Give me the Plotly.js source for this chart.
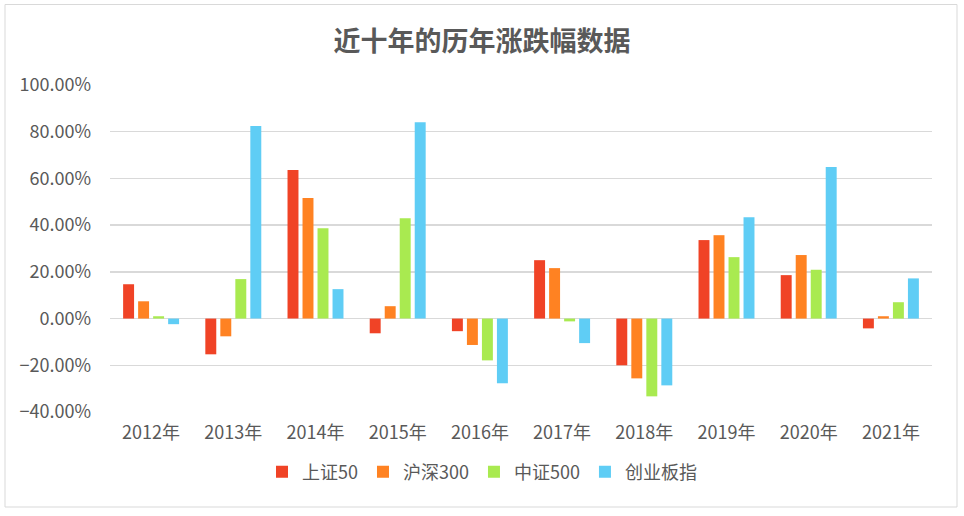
<!DOCTYPE html>
<html>
<head>
<meta charset="utf-8">
<script src="https://cdn.plot.ly/plotly-3.0.1.min.js"></script>
<style>html,body{margin:0;padding:0;background:#fff;}#chart{width:964px;height:516px;}</style>
</head>
<body>
<div id="chart"></div>
<script>
const years = ["2012年","2013年","2014年","2015年","2016年","2017年","2018年","2019年","2020年","2021年"];
const seriesNames = ["上证50","沪深300","中证500","创业板指"];
const sz50   = [0.147,-0.153,0.636,-0.063,-0.054,0.250,-0.200,0.336,0.186,-0.042];
const hs300  = [0.074,-0.076,0.516,0.053,-0.113,0.216,-0.256,0.357,0.272,0.010];
const zz500  = [0.010,0.169,0.387,0.430,-0.179,-0.012,-0.333,0.263,0.209,0.070];
const cybz   = [-0.024,0.824,0.126,0.841,-0.277,-0.105,-0.286,0.434,0.649,0.172];
const colors = ["#F04326","#FF8222","#A9EA50","#5FCDF5"];
const allVals = [sz50, hs300, zz500, cybz];

const font = '"Microsoft YaHei","Noto Sans CJK SC","Noto Sans",sans-serif';
const traces = allVals.map((v,i)=>({
  type:'bar', x:years, y:v, name:seriesNames[i],
  marker:{color:colors[i]}, hoverinfo:'skip'
}));

const layout = {
  width:964, height:516,
  paper_bgcolor:'#ffffff', plot_bgcolor:'#ffffff',
  margin:{l:110, r:32, t:85, b:104},
  font:{family:font, color:'#595959', size:18},
  title:{text:'<b>近十年的历年涨跌幅数据</b>', font:{family:font, size:27, color:'#595959'},
         x:0.5, xref:'container', xanchor:'center', y:1-42/516, yref:'container', yanchor:'middle'},
  barmode:'group', bargap:0.27, bargroupgap:0.27,
  xaxis:{type:'category', showgrid:false, zeroline:false, showline:false, ticks:'',
         tickfont:{family:font, size:18, color:'#595959'}, ticklabelstandoff:8},
  yaxis:{range:[-0.4,1.0], dtick:0.2, tick0:0, tickformat:'.2%', showgrid:true,
         gridcolor:'#D9D9D9', gridwidth:1.3, zeroline:true, zerolinecolor:'#D9D9D9', zerolinewidth:1.3,
         showline:false, ticks:'', tickfont:{family:font, size:18, color:'#595959'}, ticklabelstandoff:18},
  legend:{orientation:'h', x:0.5, xref:'container', xanchor:'center', y:1-472/516, yref:'container', yanchor:'middle',
          font:{family:font, size:18, color:'#595959'}, itemwidth:30, traceorder:'normal', tracegroupgap:0},
  showlegend:true,
  shapes:[{type:'rect', xref:'paper', yref:'paper', x0:-105/822, x1:(957-110)/822, y0:-(507-412)/327, y1:1+(85-4.5)/327,
           line:{color:'#D9D9D9', width:1}, fillcolor:'rgba(0,0,0,0)', layer:'below'}]
};
Plotly.newPlot('chart', traces, layout, {displayModeBar:false, staticPlot:true});
</script>
</body>
</html>
